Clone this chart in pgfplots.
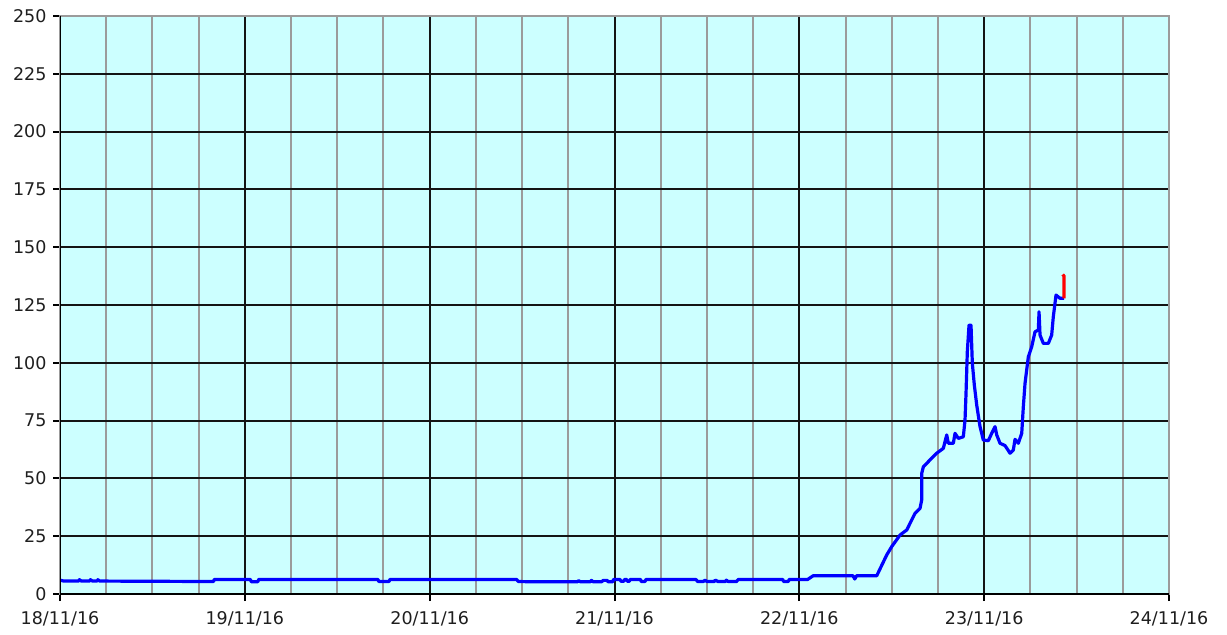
\documentclass[border=0pt]{standalone}
\usepackage{pgfplots}
\pgfplotsset{compat=1.18}
\usepackage{fontspec}
\setmainfont{DejaVu Sans}
\definecolor{bgcyan}{RGB}{204,255,255}
\definecolor{gridblack}{RGB}{20,20,20}
\definecolor{gridgray}{RGB}{155,155,155}
\definecolor{ticktext}{RGB}{30,30,30}
\begin{document}
\begin{tikzpicture}
\begin{axis}[
  scale only axis,
  width=1109pt, height=578pt,
  xmin=0, xmax=6, ymin=0, ymax=250,
  axis background/.style={fill=bgcyan},
  xtick={0,1,2,3,4,5,6},
  xticklabels={18/11/16,19/11/16,20/11/16,21/11/16,22/11/16,23/11/16,24/11/16},
  minor x tick num=3,
  ytick={0,25,...,250},
  grid=both,
  major grid style={line width=2pt, color=gridblack},
  minor grid style={line width=2pt, color=gridgray},
  axis line style={line width=2.6pt, color=gridgray},
  tick pos=left,
  tick align=outside,
  major tick length=7pt,
  minor tick length=0pt,
  every tick/.style={black, line width=2pt},
  /pgf/number format/assume math mode=true,
  ticklabel style={font=\fontsize{17.5}{20}\selectfont, color=ticktext},
  xticklabel style={yshift=-7pt},
  yticklabel style={xshift=-3pt},
]
\coordinate (sw) at (rel axis cs:0,0);
\coordinate (ne) at (rel axis cs:1,1);
\addplot[blue, line width=3.2pt, line join=round] coordinates {
(0,6)(0.02,5.6)(0.1,5.6)(0.105,6.2)(0.115,5.6)(0.16,5.6)(0.165,6.2)(0.175,5.6)(0.2,5.6)(0.205,6.2)(0.215,5.6)
(0.83,5.4)(0.835,6.3)(1.03,6.3)(1.035,5.3)(1.07,5.3)(1.075,6.3)(1.72,6.3)(1.725,5.4)(1.78,5.4)(1.785,6.3)
(2.47,6.3)(2.48,5.4)(2.55,5.3)(2.8,5.3)(2.805,5.8)(2.815,5.3)(2.87,5.3)(2.875,5.9)(2.885,5.3)(2.93,5.3)(2.94,5.9)(2.96,5.9)(2.965,5.3)(2.99,5.3)
(2.995,6.3)(3.03,6.3)(3.035,5.5)(3.05,5.5)(3.055,6.3)(3.065,6.3)(3.07,5.5)(3.08,5.5)(3.085,6.3)(3.14,6.3)(3.145,5.4)(3.165,5.4)(3.17,6.3)
(3.44,6.3)(3.45,5.4)(3.48,5.4)(3.49,6)(3.5,5.4)(3.54,5.4)(3.545,6)(3.56,5.4)(3.6,5.4)(3.605,6)(3.615,5.4)(3.66,5.4)(3.67,6.3)
(3.91,6.3)(3.915,5.4)(3.94,5.4)(3.945,6.3)(4.045,6.3)(4.075,7.9)(4.29,7.9)(4.3,6.5)(4.31,7.9)
(4.4187,7.9)(4.4728,16.9)(4.4998,20.5)(4.5447,25.5)(4.5810,27.7)(4.6259,34.9)(4.6529,37)(4.6621,40.7)(4.6621,52.2)
(4.6708,55)(4.7070,58)(4.7433,60.9)(4.7790,63)(4.7974,68.8)(4.8060,65.2)(4.8331,65.2)(4.8423,69.5)(4.8601,67.3)
(4.8872,68)(4.8964,75.3)(4.9018,86.8)(4.9088,104.8)(4.9180,116.3)(4.9288,116.3)(4.9359,99.8)(4.9467,90.4)
(4.9597,81.7)(4.9775,72.4)(4.9954,66.6)(5.0224,66.3)(5.0408,69.5)(5.0587,72.4)(5.0679,68.8)(5.0857,65.2)
(5.1128,64.2)(5.1399,60.9)(5.1577,62.3)(5.1669,66.9)(5.1848,65.2)(5.2032,69.5)(5.2118,81)(5.2210,91.1)
(5.2389,102.6)(5.2573,107)(5.2751,113.4)(5.2930,114.2)(5.2968,122.1)(5.3022,112)(5.3200,108.4)(5.3471,108.4)
(5.3652,112)(5.3741,120)(5.3887,129.3)(5.4103,127.9)(5.4320,127.9)
};
\addplot[red, line width=3.2pt] coordinates {(5.4320,127.9)(5.4320,137.5)(5.4250,138.2)};
\draw[black, line width=2.4pt] (rel axis cs:0,1) -- (rel axis cs:0,0) -- (rel axis cs:1,0);
\end{axis}
\pgfresetboundingbox
\path ([shift={(-60pt,-40pt)}]sw) rectangle ([shift={(58pt,16pt)}]ne);
\end{tikzpicture}
\end{document}
